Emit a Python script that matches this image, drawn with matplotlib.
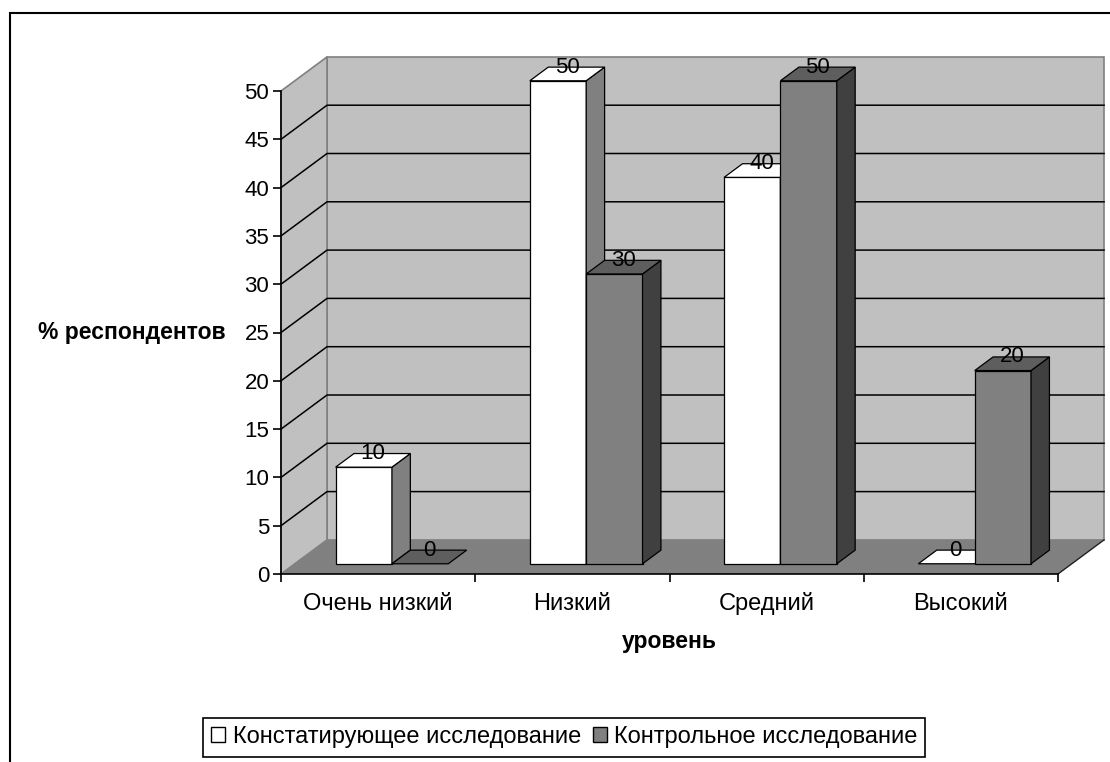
import matplotlib
matplotlib.use("Agg")
import matplotlib.pyplot as plt
from matplotlib.patches import Polygon, Rectangle, Patch

plt.rcParams['font.family'] = ['Liberation Sans', 'DejaVu Sans']

categories = ['Очень низкий', 'Низкий', 'Средний', 'Высокий']
constat = [10, 50, 40, 0]
control = [0, 30, 50, 20]
series_names = ['Констатирующее исследование', 'Контрольное исследование']
y_ticks = list(range(0, 55, 5))

# oblique depth of the box, in data units (x: categories, y: percent)
DX = 0.237
DY = 3.53
D0, D1 = 0.30, 0.70   # depth span of the columns
BAR_W = 0.29

WALL = '#C0C0C0'
FLOOR = '#808080'
styles = [
    dict(front='#FFFFFF', top='#FFFFFF', side='#808080'),
    dict(front='#808080', top='#5E5E5E', side='#404040'),
]

FS_TICK = 16
FS_CAT = 17
FS_TITLE = 16.5


def p(x, y, d):
    return (x + d * DX, y + d * DY)


def add_poly(ax, pts, fc, ec='black', lw=0.9, z=3):
    ax.add_patch(Polygon(pts, closed=True, facecolor=fc, edgecolor=ec,
                         linewidth=lw, zorder=z, clip_on=False,
                         joinstyle='miter'))


def draw_bar(ax, x0, v, st, z):
    x1 = x0 + BAR_W
    top = [p(x0, v, D0), p(x1, v, D0), p(x1, v, D1), p(x0, v, D1)]
    if v > 0:
        add_poly(ax, [p(x0, 0, D0), p(x1, 0, D0), p(x1, v, D0), p(x0, v, D0)], st['front'], z=z)
        add_poly(ax, [p(x1, 0, D0), p(x1, 0, D1), p(x1, v, D1), p(x1, v, D0)], st['side'], z=z)
    add_poly(ax, top, st['top'], z=z)
    cx, cy = p(x0 + BAR_W / 2, v, (D0 + D1) / 2)
    ax.text(cx, v + D1 * DY, str(v), ha='center', va='center', fontsize=FS_TICK,
            zorder=z + 0.5, clip_on=False)


fig = plt.figure(figsize=(11.1, 7.62), dpi=100)
ax = fig.add_axes([281 / 1110, 1 - 574 / 762, 777 / 1110, 483 / 762])
ax.set_facecolor('none')
n = len(categories)
ax.set_xlim(0, n)
ax.set_ylim(0, 50)

ymax = y_ticks[-1]
# back wall, side wall and floor
add_poly(ax, [p(0, 0, 1), p(n, 0, 1), p(n, ymax, 1), p(0, ymax, 1)], WALL, ec='#808080', lw=1.2, z=1)
add_poly(ax, [p(0, 0, 0), p(0, 0, 1), p(0, ymax, 1), p(0, ymax, 0)], WALL, ec='#808080', lw=1.2, z=1)
add_poly(ax, [p(0, 0, 0), p(n, 0, 0), p(n, 0, 1), p(0, 0, 1)], FLOOR, ec='none', lw=0, z=1.2)
fx, fy = zip(p(n, 0, 0), p(n, 0, 1))
ax.plot(fx, fy, color='#202020', lw=1, zorder=1.5, clip_on=False)

# gridlines on both walls
for v in y_ticks[1:-1]:
    gx, gy = zip(p(0, v, 0), p(0, v, 1), p(n, v, 1))
    ax.plot(gx, gy, color='black', lw=1.1, zorder=1.5, clip_on=False)

# columns, left to right so the nearer faces overlap correctly
z = 3
for i in range(n):
    for s, vals in enumerate([constat, control]):
        x0 = i + 0.5 - BAR_W + s * BAR_W
        draw_bar(ax, x0, vals[i], styles[s], z)
        z += 1

for side in ['top', 'right']:
    ax.spines[side].set_visible(False)
for side in ['left', 'bottom']:
    ax.spines[side].set_linewidth(1.2)
    ax.spines[side].set_zorder(2)

ax.set_yticks(y_ticks)
ax.tick_params(axis='y', direction='out', length=5.5, width=1.2, pad=3, labelsize=FS_TICK)
ax.set_xticks(range(n + 1))
ax.set_xticklabels([])
ax.tick_params(axis='x', which='major', direction='out', length=6, width=1.2)
ax.set_xticks([i + 0.5 for i in range(n)], minor=True)
ax.set_xticklabels(categories, minor=True)
ax.tick_params(axis='x', which='minor', length=0, pad=26, labelsize=FS_CAT)
for lbl in ax.get_xticklabels(minor=True):
    lbl.set_verticalalignment('baseline')

ax.set_ylabel('% респондентов', rotation=0, ha='right', va='center',
              fontsize=FS_TITLE, fontweight='bold')
ax.yaxis.set_label_coords(-0.071, 0.501)
ax.set_xlabel('уровень', fontsize=FS_TITLE, fontweight='bold', va='center')
ax.xaxis.set_label_coords(0.4994, -0.139)

handles = [Patch(facecolor=st['front'], edgecolor='black', linewidth=1) for st in styles]
leg = fig.legend(handles, series_names, loc='upper left', ncol=2,
                 bbox_to_anchor=(203 / 1110, 1 - 718 / 762),
                 bbox_transform=fig.transFigure, fontsize=17,
                 fancybox=False, framealpha=1, edgecolor='black',
                 handlelength=0.6, handleheight=0.6, handletextpad=0.3,
                 columnspacing=0.5, borderpad=0.35, borderaxespad=0)
leg.get_frame().set_linewidth(1.2)

# chart area border
fig.add_artist(Rectangle((9.5 / 1110, -0.1), 1.2, 1.1 - 13.3 / 762,
                         transform=fig.transFigure, fill=False,
                         edgecolor='black', linewidth=1.5))

fig.savefig('out.png', dpi=100)
